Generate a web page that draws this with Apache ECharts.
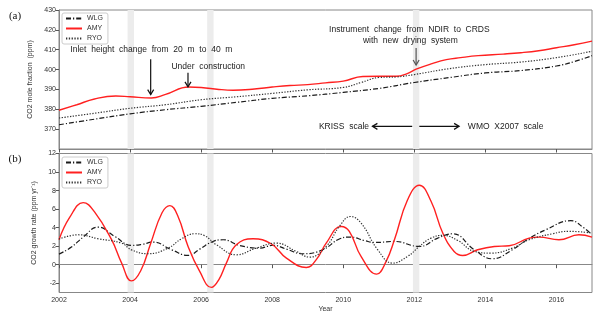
<!DOCTYPE html>
<html><head><meta charset="utf-8">
<script src="https://cdn.jsdelivr.net/npm/echarts@6/dist/echarts.min.js"></script>
<style>html,body{margin:0;padding:0;background:#fff}#c{width:600px;height:319px}</style>
</head><body><div id="c"></div>
<script>
// ---- data (year, value) ----
const seriesNames = ['WLG', 'AMY', 'RYO'];
const xTicks = [2002, 2004, 2006, 2008, 2010, 2012, 2014, 2016];
const co2Ticks = [370, 380, 390, 400, 410, 420, 430];
const rateTicks = [-2, 0, 2, 4, 6, 8, 10, 12];

const wlgCo2 = [[2002,372.2],[2003,375],[2004,377.7],[2005,379.8],[2006,381.5],[2007,383.5],[2008,385.5],[2009,386.8],[2010,388.5],[2011,390.5],[2012,393.5],[2013,396],[2014,398.3],[2015,399.5],[2016,401.8],[2016.5,404],[2017,407]];
const amyCo2 = [[2002,379.5],[2002.5,382.3],[2003,385.2],[2003.6,386.7],[2004,386.3],[2004.6,385.7],[2005,387.5],[2005.65,391.2],[2006,391],[2006.5,390],[2006.9,389.6],[2007.5,390.2],[2008,391.2],[2008.5,392],[2009,392.4],[2009.5,393.3],[2010,394.2],[2010.55,396.5],[2011,396.6],[2011.5,396.6],[2011.8,398],[2012.05,400.2],[2012.5,403],[2012.9,405],[2013.3,406],[2013.8,407],[2014.5,407.8],[2015,408.5],[2015.5,409.5],[2016,411],[2016.5,412.5],[2017,414.3]];
const ryoCo2 = [[2002,375.6],[2003,378],[2004,380.5],[2005,382.3],[2006,384.8],[2007,386.3],[2008,388],[2009,389.8],[2010,391],[2010.5,393.5],[2011,396],[2011.5,396.3],[2012,397.5],[2013,400.5],[2014,402.5],[2015,403.8],[2016,406],[2017,409.2]];

const wlgRate = [[2002,1.14],[2002.35,1.9],[2002.68,2.98],[2003.1,4.06],[2003.57,3.05],[2004.04,2.08],[2004.35,2.2],[2004.65,2.44],[2005.17,1.61],[2005.63,1.0],[2005.96,1.68],[2006.33,2.51],[2006.62,2.69],[2007.08,2.08],[2007.65,1.79],[2008.02,2.1],[2008.4,1.68],[2008.86,1.18],[2009.42,1.61],[2009.89,2.77],[2010.2,2.98],[2010.6,2.6],[2010.9,2.4],[2011.44,2.51],[2012.14,1.97],[2012.66,2.87],[2013.08,3.34],[2013.69,1.61],[2014.2,0.64],[2014.76,1.61],[2015.14,2.62],[2015.7,3.77],[2016.4,4.75],[2016.78,3.95],[2016.95,3.4]];
const amyRate = [[2002,2.7],[2002.3,5.1],[2002.68,6.7],[2003.0,5.7],[2003.48,2.7],[2003.76,0.2],[2004.04,-1.75],[2004.3,-0.65],[2004.58,2.3],[2004.9,5.6],[2005.12,6.37],[2005.35,5.2],[2005.63,2.0],[2005.96,-0.73],[2006.29,-2.45],[2006.5,-1.6],[2006.71,0.17],[2006.99,2.15],[2007.46,2.8],[2007.97,2.26],[2008.4,0.71],[2008.96,-0.3],[2009.25,0.6],[2009.52,2.33],[2009.94,4.13],[2010.17,3.6],[2010.5,0.89],[2010.94,-1.02],[2011.2,0.3],[2011.44,2.69],[2011.81,7.0],[2012.14,8.57],[2012.47,6.84],[2012.8,3.42],[2013.12,1.43],[2013.36,1.0],[2013.78,1.61],[2014.25,1.97],[2014.67,2.04],[2015.23,2.87],[2015.51,2.98],[2016.07,2.69],[2016.63,3.23],[2017,2.98]];
const ryoRate = [[2002,2.77],[2002.54,3.23],[2003.1,2.8],[2003.76,2.33],[2004.04,1.6],[2004.5,1.18],[2005.07,1.79],[2005.45,2.8],[2005.82,3.34],[2006.1,3.13],[2006.43,2.15],[2006.99,1.07],[2007.55,1.79],[2008.11,2.33],[2008.68,1.43],[2009.05,0.82],[2009.52,1.97],[2009.89,4.13],[2010.2,5.2],[2010.5,4.5],[2010.97,1.61],[2011.39,0.17],[2011.81,0.89],[2012.14,1.97],[2012.47,2.87],[2012.8,3.16],[2013.22,2.62],[2013.69,1.43],[2014.16,1.25],[2014.76,1.79],[2015.23,2.69],[2015.89,3.34],[2016.35,3.6],[2017,3.42]];

// event periods (shaded bands), in years
const bands = [[2003.93, 2004.11], [2006.17, 2006.35], [2011.96, 2012.14]];

// annotations in data coordinates of panel (a)
const notes = [
  {text: 'Inlet  height  change  from  20  m  to  40  m', at: [2004.6, 410]},
  {text: 'Under  construction', at: [2006.2, 401.4]},
  {text: 'Instrument  change  from  NDIR  to  CRDS', at: [2011.86, 420.3]},
  {text: 'with  new  drying  system', at: [2011.89, 414.6]},
  {text: 'KRISS  scale', at: [2010.02, 371.4]},
  {text: 'WMO  X2007  scale', at: [2014.57, 371.4]}
];
const arrows = [
  {from: [2004.58, 405.2], to: [2004.58, 387.4], color: '#111'},
  {from: [2005.63, 398.4], to: [2005.63, 391.3], color: '#111'},
  {from: [2012.05, 410.9], to: [2012.05, 402.3], color: '#555'},
  {from: [2011.94, 371.4], to: [2010.82, 371.4], color: '#111'},
  {from: [2012.14, 371.4], to: [2013.26, 371.4], color: '#111'}
];

// ---- chart ----
const FONT = 'Liberation Sans, Arial, sans-serif';
const styles = {
  WLG: {color: '#1a1a1a', width: 1.2, type: [5, 2, 1.2, 2]},
  AMY: {color: '#ff2020', width: 1.4, type: 'solid'},
  RYO: {color: '#333333', width: 1.2, type: [1.3, 1.5]}
};
const co2Data = {WLG: wlgCo2, AMY: amyCo2, RYO: ryoCo2};
const rateData = {WLG: wlgRate, AMY: amyRate, RYO: ryoRate};

function xAxis(i, showLabels) {
  return {
    gridIndex: i, type: 'value', min: 2002, max: 2017,
    axisLine: {show: true, lineStyle: {color: '#888', width: 1}},
    axisTick: {show: true, length: 3.5, customValues: xTicks, lineStyle: {color: '#555'}},
    axisLabel: {show: showLabels, customValues: xTicks, formatter: v => String(v), fontSize: 7, color: '#333', margin: 4, fontFamily: FONT},
    splitLine: {show: false},
    name: showLabels ? 'Year' : '', nameLocation: 'middle', nameGap: 13,
    nameTextStyle: {fontSize: 7, color: '#333', fontFamily: FONT}
  };
}
function yAxis(i, min, max, ticks, name) {
  return {
    gridIndex: i, type: 'value', min: min, max: max,
    axisLine: {show: true, lineStyle: {color: '#888', width: 1}},
    axisTick: {show: true, length: 3.5, customValues: ticks, lineStyle: {color: '#555'}},
    axisLabel: {customValues: ticks, fontSize: 7, color: '#333', margin: 3, fontFamily: FONT},
    splitLine: {show: false},
    name: name, nameLocation: 'middle', nameGap: 21,
    nameTextStyle: {fontSize: 7, color: '#333', fontFamily: FONT}
  };
}
function legend(top) {
  return {
    left: 62, top: top, orient: 'vertical', data: seriesNames, selectedMode: false,
    itemWidth: 16, itemHeight: 7, itemGap: 3,
    itemStyle: {opacity: 0},
    backgroundColor: '#fff', borderColor: '#ccc', borderWidth: 1, borderRadius: 2,
    padding: [2, 5, 2, 3],
    textStyle: {fontSize: 7, color: '#333', fontFamily: FONT}
  };
}

const series = [];
[0, 1].forEach(g => {
  series.push({
    type: 'line', xAxisIndex: g, yAxisIndex: g, data: [], silent: true, z: 1,
    markArea: {silent: true, itemStyle: {color: '#ececec'},
      data: bands.map(b => [{xAxis: b[0]}, {xAxis: b[1]}])}
  });
  seriesNames.forEach(n => {
    series.push({
      name: n, type: 'line', xAxisIndex: g, yAxisIndex: g,
      data: (g === 0 ? co2Data : rateData)[n],
      smooth: 0.45, symbol: 'none', z: 3,
      lineStyle: {color: styles[n].color, width: styles[n].width, type: styles[n].type},
      itemStyle: {color: styles[n].color}
    });
  });
});

const chart = echarts.init(document.getElementById('c'), null, {renderer: 'canvas'});
chart.setOption({
  animation: false,
  grid: [
    {left: 59, right: 8, top: 10, height: 139, show: true, borderColor: '#888', borderWidth: 1, backgroundColor: 'transparent'},
    {left: 59, right: 8, top: 153.5, height: 139, show: true, borderColor: '#888', borderWidth: 1, backgroundColor: 'transparent'}
  ],
  xAxis: [xAxis(0, false), xAxis(1, true)],
  yAxis: [yAxis(0, 360, 430, co2Ticks, 'CO2 mole fraction  (ppm)'),
          yAxis(1, -3, 12, rateTicks, 'CO2 growth rate (ppm yr\u207B\u00B9)')],
  legend: [legend(13), legend(157)],
  series: series
});

// annotations placed via the panel (a) scales
const px = p => chart.convertToPixel({xAxisIndex: 0, yAxisIndex: 0}, p);
const graphics = [];
notes.forEach(n => {
  const p = px(n.at);
  graphics.push({type: 'text', x: p[0], y: p[1], z: 10,
    style: {text: n.text, fill: '#222', font: '8.5px ' + FONT, align: 'center', verticalAlign: 'middle'}});
});
arrows.forEach(a => {
  const p0 = px(a.from), p1 = px(a.to);
  const dx = p1[0] - p0[0], dy = p1[1] - p0[1], L = Math.hypot(dx, dy);
  const ux = dx / L, uy = dy / L;
  graphics.push({type: 'line', z: 10, shape: {x1: p0[0], y1: p0[1], x2: p1[0], y2: p1[1]},
    style: {stroke: a.color, lineWidth: 1.2}});
  graphics.push({type: 'polyline', z: 10, shape: {points: [
      [p1[0] - 5 * ux - 3 * uy, p1[1] - 5 * uy + 3 * ux], [p1[0], p1[1]],
      [p1[0] - 5 * ux + 3 * uy, p1[1] - 5 * uy - 3 * ux]]},
    style: {stroke: a.color, fill: null, lineWidth: 1.2}});
});
graphics.push({type: 'text', x: 15, y: 16, style: {text: '(a)', fill: '#111', font: '11px Liberation Serif, serif', align: 'center', verticalAlign: 'middle'}});
graphics.push({type: 'text', x: 15, y: 159, style: {text: '(b)', fill: '#111', font: '11px Liberation Serif, serif', align: 'center', verticalAlign: 'middle'}});
chart.setOption({graphic: graphics});
</script>
</body></html>
